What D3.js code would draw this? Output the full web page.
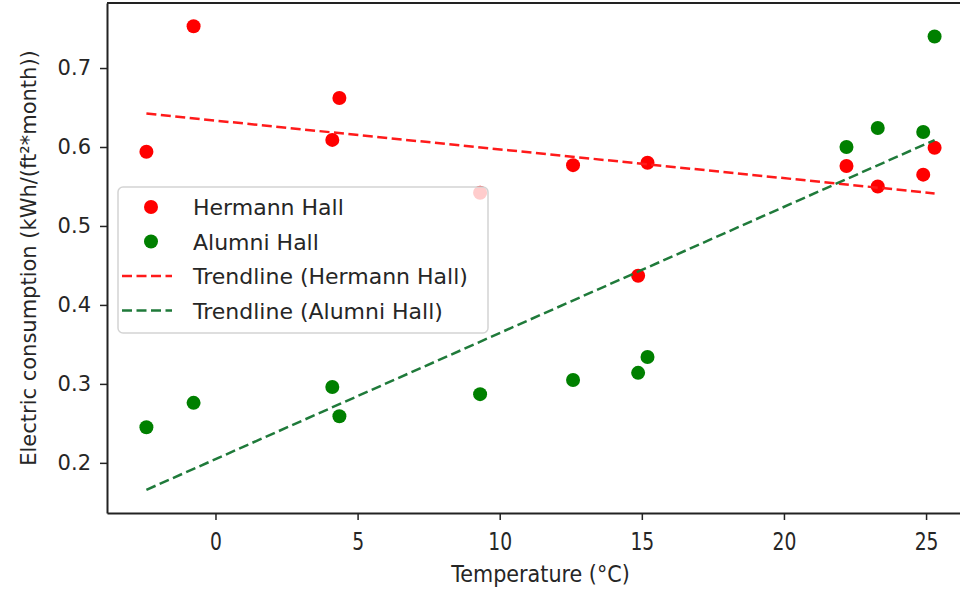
<!DOCTYPE html>
<html>
<head>
<meta charset="utf-8">
<script src="https://cdn.jsdelivr.net/npm/d3@7"></script>
<style>
  body { margin: 0; background: #fff; }
  svg text { font-family: 'DejaVu Sans', sans-serif; fill: #262626; }
  .axis path, .axis line { stroke: #222; }
</style>
</head>
<body>
<svg id="plotarea"></svg>
<script>
// monthly mean temperature (°C)
var temperature = [-2.43, -0.77, 4.11, 4.36, 9.31, 12.58, 14.87, 15.2, 22.2, 23.3, 24.9, 25.3];
// electric consumption kWh/(ft²*month)
var hermannHall = [0.594, 0.753, 0.609, 0.662, 0.542, 0.577, 0.437, 0.580, 0.576, 0.550, 0.565, 0.599];
var alumniHall  = [0.245, 0.276, 0.296, 0.259, 0.287, 0.305, 0.314, 0.334, 0.600, 0.624, 0.619, 0.740];

var xTicks = [0, 5, 10, 15, 20, 25];
var yTicks = [0.2, 0.3, 0.4, 0.5, 0.6, 0.7];

var seriesNames = ['Hermann Hall', 'Alumni Hall'];
var trendNames = ['Trendline (Hermann Hall)', 'Trendline (Alumni Hall)'];

const margin = { top: 3, left: 107, bottom: 77, right: -14 };
const dims = {
    width: 960 - margin.left - margin.right,
    height: 590 - margin.top - margin.bottom,
};

// returns slope, intercept of the least squares line
function leastSquares(xSeries, ySeries) {
    var xBar = d3.mean(xSeries), yBar = d3.mean(ySeries);
    var ssXX = d3.sum(xSeries, function(d) { return (d - xBar) * (d - xBar); });
    var ssXY = d3.sum(xSeries, function(d, i) { return (d - xBar) * (ySeries[i] - yBar); });
    var slope = ssXY / ssXX;
    return [slope, yBar - xBar * slope];
}

function pad(ext) {
    var m = (ext[1] - ext[0]) * 0.05;
    return [ext[0] - m, ext[1] + m];
}

function plot() {
    var svg = d3.select('#plotarea')
                .attr('width', 960)
                .attr('height', 590)
                .append('g')
                .attr('transform', `translate(${margin.left}, ${margin.top})`);

    var tMin = d3.min(temperature), tMax = d3.max(temperature);
    var trends = [hermannHall, alumniHall].map(function(s) {
        var c = leastSquares(temperature, s);
        return [[tMin, c[0] * tMin + c[1]], [tMax, c[0] * tMax + c[1]]];
    });

    var allY = hermannHall.concat(alumniHall, trends[0].map(d => d[1]), trends[1].map(d => d[1]));

    var x = d3.scaleLinear().domain(pad([tMin, tMax])).range([0, dims.width]);
    var y = d3.scaleLinear().domain(pad(d3.extent(allY))).range([dims.height, 0]);

    var colors = ['#ff0000', '#008000'];
    var trendColors = ['#ff1a1a', '#1f7a3a'];

    // scatter points
    [hermannHall, alumniHall].forEach(function(s, k) {
        svg.append('g')
           .selectAll('circle')
           .data(s)
           .enter().append('circle')
           .attr('cx', function(d, i) { return x(temperature[i]); })
           .attr('cy', function(d) { return y(d); })
           .attr('r', 7)
           .style('fill', colors[k]);
    });

    // trendlines
    var trendLine = d3.line()
                      .x(d => x(d[0]))
                      .y(d => y(d[1]));
    trends.forEach(function(t, k) {
        svg.append('path')
           .attr('d', trendLine(t))
           .style('fill', 'none')
           .style('stroke', trendColors[k])
           .style('stroke-width', 2.5)
           .style('stroke-dasharray', '10,4.5');
    });

    // axes
    var xAxis = svg.append('g')
       .attr('class', 'axis')
       .attr('transform', 'translate(0,' + dims.height + ')')
       .call(d3.axisBottom(x).tickValues(xTicks).tickSize(7).tickPadding(13).tickSizeOuter(0));
    xAxis.selectAll('text')
       .style('font-size', '24px')
       .attr('transform', 'scale(0.78,1)');

    var yAxis = svg.append('g')
       .attr('class', 'axis')
       .call(d3.axisLeft(y).tickValues(yTicks).tickFormat(d3.format('.1f')).tickSize(7).tickPadding(9).tickSizeOuter(0));
    yAxis.selectAll('text').style('font-size', '21px');

    svg.selectAll('.axis path').style('stroke-width', 2);
    svg.selectAll('.axis line').style('stroke-width', 1.5);

    // top spine
    svg.append('line')
       .attr('x1', 0).attr('x2', dims.width)
       .attr('y1', 0).attr('y2', 0)
       .style('stroke', '#222').style('stroke-width', 2);

    // axis labels
    svg.append('text')
       .attr('transform', `translate(${dims.width / 2}, ${dims.height + 69}) scale(0.9,1)`)
       .style('text-anchor', 'middle')
       .style('font-size', '23px')
       .text('Temperature (°C)');

    svg.append('text')
       .attr('transform', 'rotate(-90)')
       .attr('x', -dims.height / 2)
       .attr('y', 36 - margin.left)
       .style('text-anchor', 'middle')
       .style('font-size', '21px')
       .text('Electric consumption (kWh/(ft²*month))');

    // legend
    var lg = svg.append('g').attr('transform', `translate(${118 - margin.left}, ${187 - margin.top})`);
    lg.append('rect')
      .attr('width', 370).attr('height', 146)
      .attr('rx', 5)
      .style('fill', '#fff').style('fill-opacity', 0.8)
      .style('stroke', '#d4d4d4').style('stroke-width', 1.5);

    seriesNames.forEach(function(n, k) {
        var cy = 20 + k * 34.5;
        lg.append('circle').attr('cx', 33).attr('cy', cy).attr('r', 7).style('fill', colors[k]);
        lg.append('text').attr('x', 75).attr('y', cy + 8).style('font-size', '22px').text(n);
    });
    trendNames.forEach(function(n, k) {
        var cy = 89 + k * 34.5;
        lg.append('line')
          .attr('x1', 4).attr('x2', 54).attr('y1', cy).attr('y2', cy)
          .style('stroke', trendColors[k]).style('stroke-width', 2.5)
          .style('stroke-dasharray', '10,4.5');
        lg.append('text').attr('x', 75).attr('y', cy + 8).style('font-size', '22px').text(n);
    });
}

plot();
</script>
</body>
</html>
